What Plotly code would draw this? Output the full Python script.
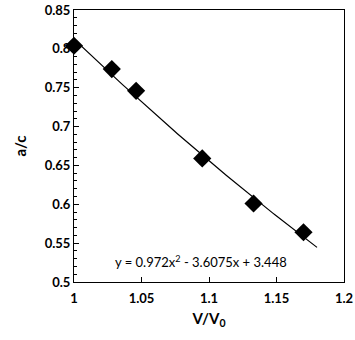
import numpy as np
import plotly.graph_objects as go

# Data
v_ratio = [1.000, 1.028, 1.046, 1.095, 1.133, 1.170]
a_over_c = [0.804, 0.774, 0.746, 0.659, 0.601, 0.564]

# Trendline coefficients shown on the chart (y = a x^2 + b x + c)
fit_coeffs = [0.972, -3.6075, 3.448]
fit_range = [1.0, 1.18]
fit_label = "y = 0.972x<sup>2</sup> - 3.6075x + 3.448"

x_ticks = [1, 1.05, 1.1, 1.15, 1.2]
x_ticklabels = ["1", "1.05", "1.1", "1.15", "1.2"]
y_ticks = [0.5, 0.55, 0.6, 0.65, 0.7, 0.75, 0.8, 0.85]
y_ticklabels = ["0.5", "0.55", "0.6", "0.65", "0.7", "0.75", "0.8", "0.85"]

xf = np.linspace(fit_range[0], fit_range[1], 100)
yf = np.polyval(fit_coeffs, xf)

FONT = "Lato, 'Open Sans', sans-serif"

fig = go.Figure()
fig.add_trace(go.Scatter(x=xf, y=yf, mode="lines",
                         line=dict(color="black", width=1.2),
                         hoverinfo="skip", showlegend=False))
fig.add_trace(go.Scatter(x=v_ratio, y=a_over_c, mode="markers",
                         marker=dict(symbol="diamond", size=14, color="black"),
                         cliponaxis=False, showlegend=False))

fig.add_annotation(x=1.094, y=0.526, text=fit_label, showarrow=False,
                   font=dict(family=FONT, size=13, color="black"),
                   xanchor="center", yanchor="middle")

fig.update_xaxes(range=[1, 1.2], tickvals=x_ticks, ticktext=x_ticklabels,
                 automargin=False, ticklabelstandoff=4,
                 showline=True, linecolor="black", linewidth=1, mirror=True,
                 ticks="inside", ticklen=5, tickcolor="black",
                 showgrid=False, zeroline=False,
                 tickfont=dict(family=FONT, size=13, color="black", weight="bold"),
                 title=dict(text="V/V<sub>0</sub>", standoff=8,
                            font=dict(family=FONT, size=15, color="black", weight="bold")))
fig.update_yaxes(range=[0.5, 0.85], tickvals=y_ticks, ticktext=y_ticklabels,
                 automargin=False,
                 showline=True, linecolor="black", linewidth=1, mirror=True,
                 ticks="inside", ticklen=5, tickcolor="black",
                 minor=dict(dtick=0.01, ticks="inside", ticklen=3, tickcolor="black"),
                 showgrid=False, zeroline=False,
                 tickfont=dict(family=FONT, size=13, color="black", weight="bold"),
                 title=dict(text="a/c", standoff=14,
                            font=dict(family=FONT, size=15, color="black", weight="bold")))

fig.update_layout(width=355, height=340,
                  margin=dict(l=74, r=11, t=10, b=58, autoexpand=False),
                  plot_bgcolor="white", paper_bgcolor="white")

fig.write_html("out.html", config={"displayModeBar": False},
               post_script="document.body.style.margin='0';")
